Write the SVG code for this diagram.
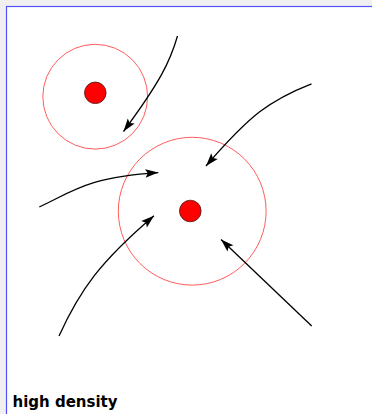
<svg xmlns="http://www.w3.org/2000/svg" width="372" height="414" viewBox="0 0 372 414">
<style>
.ring{fill:none;stroke:#ff5c5c;stroke-width:1}
.dot{fill:#ff0000;stroke:#402020;stroke-width:0.8}
.conn{fill:none;stroke:#000;stroke-width:1.3;marker-end:url(#ah)}
.lbl{font-family:"DejaVu Sans",Verdana,sans-serif;font-weight:bold;font-size:15px;fill:#000}
</style>
<defs>
<marker id="ah" markerUnits="userSpaceOnUse" markerWidth="16" markerHeight="12" viewBox="-14 -6 16 12" refX="0" refY="0" orient="auto">
<path d="M0,0 L-13,-4.3 L-10.5,0 L-13,4.3 z" fill="#000"/>
</marker>
</defs>
<rect x="0" y="0" width="372" height="414" fill="#f0f0f0"/>
<rect x="6.5" y="6.5" width="380" height="420" fill="#fff" stroke="#5050ff" stroke-width="1.2"/>
<g id="small">
<circle class="ring" cx="95.2" cy="96.7" r="52.4"/>
<circle class="dot" cx="95.3" cy="92.8" r="10.8"/>
</g>
<g id="big">
<circle class="ring" cx="192.2" cy="211.2" r="73.9"/>
<circle class="dot" cx="190.3" cy="211" r="10.8"/>
</g>
<g id="connectors">
<path class="conn" d="M177.5,36 C170,62 160,82 123.5,131.5"/>
<path class="conn" d="M311.5,83.8 C270,100 250,115 206,166"/>
<path class="conn" d="M39.3,207 C75,190 90,177 158.3,172.6"/>
<path class="conn" d="M59,336 C80,290 100,262 154,215.8"/>
<path class="conn" d="M311.7,326 L221,239.5"/>
</g>
<text class="lbl" x="12.5" y="407">high density</text>
</svg>
